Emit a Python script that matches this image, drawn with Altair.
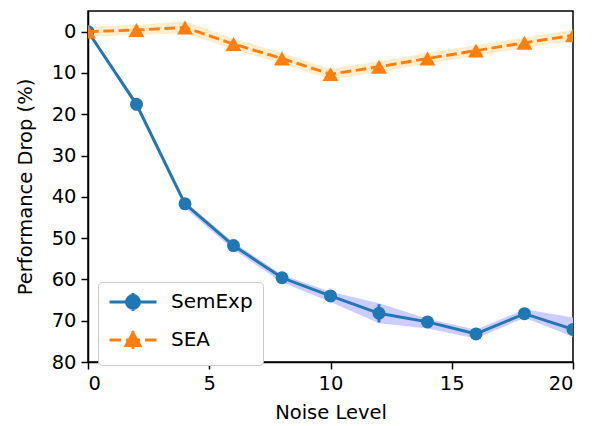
import altair as alt
import pandas as pd

# ---------------- data ----------------
noise = [0, 2, 4, 6, 8, 10, 12, 14, 16, 18, 20]

semexp = [0.0, 17.6, 41.7, 51.8, 59.6, 64.0, 68.2, 70.3, 73.2, 68.3, 72.1]
semexp_err = [0.3, 0.5, 0.6, 0.7, 0.8, 0.9, 2.2, 0.8, 0.8, 0.9, 1.0]
semexp_band_lo = [-0.3, 16.9, 41.1, 51.0, 58.9, 63.0, 65.8, 69.5, 72.2, 67.2, 69.2]
semexp_band_hi = [0.3, 18.5, 42.7, 52.8, 60.7, 65.5, 70.6, 71.9, 74.3, 69.3, 73.9]

sea = [0.0, -0.4, -1.0, 3.0, 6.5, 10.3, 8.5, 6.5, 4.6, 2.7, 0.9]
sea_err = [0.3, 0.4, 0.5, 0.5, 0.5, 0.6, 0.5, 0.5, 0.5, 0.5, 0.5]
sea_band_lo = [-1.2, -1.6, -2.5, 1.7, 5.2, 9.0, 7.2, 5.2, 3.3, 1.4, -0.4]
sea_band_hi = [1.2, 0.8, 0.3, 4.3, 7.8, 11.6, 9.8, 7.8, 5.9, 4.0, 2.2]

names = ["SemExp", "SEA"]
BLUE, ORANGE = "#1f77b4", "#ff7f0e"
BLUE_BAND, ORANGE_BAND = "#ccccff", "#ffedcc"

rows = []
for name, vals, errs, lo, hi in [
    ("SemExp", semexp, semexp_err, semexp_band_lo, semexp_band_hi),
    ("SEA", sea, sea_err, sea_band_lo, sea_band_hi),
]:
    for i, x in enumerate(noise):
        rows.append(dict(series=name, noise=x, value=vals[i],
                         err_lo=vals[i] - errs[i], err_hi=vals[i] + errs[i],
                         band_lo=lo[i], band_hi=hi[i]))
df = pd.DataFrame(rows)

# rows only used to generate the legend (placed outside the x domain, clipped)
legend_df = pd.DataFrame({"series": names, "noise": [-10, -10], "value": [40, 40]})

# ---------------- scales / axes ----------------
FONT = "DejaVu Sans"
FS = 19.5
LW = 2.9

xs = alt.Scale(domain=[0, 20], nice=False, zero=False)
ys = alt.Scale(domain=[-5, 80], reverse=True, nice=False, zero=False)

x_axis = alt.Axis(values=[0, 5, 10, 15, 20], title="Noise Level",
                  titleX=242.5, titleY=56, titleBaseline="alphabetic",
                  titleAlign="center")
y_axis = alt.Axis(values=[0, 10, 20, 30, 40, 50, 60, 70, 80],
                  title="Performance Drop (%)", titleAngle=270,
                  titleX=-63, titleY=175.5, titleBaseline="middle",
                  titleAlign="center")

X = alt.X("noise:Q", scale=xs, axis=x_axis)


def series_layers(name, color, band_color, dash, shape, size):
    base = alt.Chart(df).transform_filter(alt.datum.series == name)
    band = base.mark_area(clip=True, color=band_color, opacity=1).encode(
        x=X,
        y=alt.Y("band_lo:Q", scale=ys, axis=y_axis),
        y2="band_hi:Q",
    )
    line_kwargs = dict(clip=True, color=color, strokeWidth=LW)
    if dash:
        line_kwargs["strokeDash"] = dash
    line = base.mark_line(**line_kwargs).encode(
        x=X, y=alt.Y("value:Q", scale=ys, axis=y_axis))
    err = base.mark_rule(clip=True, color=color, strokeWidth=LW).encode(
        x=X, y=alt.Y("err_lo:Q", scale=ys, axis=y_axis), y2="err_hi:Q")
    pts = base.mark_point(clip=True, filled=True, opacity=1, color=color,
                          shape=shape, size=size).encode(
        x=X, y=alt.Y("value:Q", scale=ys, axis=y_axis))
    return band, line, err, pts


sb, sl, se, sp = series_layers("SemExp", BLUE, BLUE_BAND, None, "circle", 169)
ab, al, ae, ap = series_layers("SEA", ORANGE, ORANGE_BAND, [10.7, 4.6], "triangle-up", 256)

# ---------------- legend symbols (line + marker + errorbar) ----------------
U = 8.5  # half of sqrt(symbolSize)


def f(v):
    return f"{v / U:.4f}"


def circle(cx, r):
    return (f"M{f(cx + r)},0A{f(r)},{f(r)} 0 1,1 {f(cx - r)},0"
            f"A{f(r)},{f(r)} 0 1,1 {f(cx + r)},0Z")


semexp_sym = (f"M{f(-8.5)},0H{f(38.5)}"
              f"M{f(15)},{f(-9)}V{f(9)}" + circle(15, 6.5))
sea_sym = (f"M{f(-8.5)},0H{f(3)}M{f(8)},0H{f(22)}M{f(27)},0H{f(38.5)}"
           f"M{f(15)},{f(-9)}V{f(9)}"
           f"M{f(15)},{f(-7)}L{f(22)},{f(5.5)}L{f(8)},{f(5.5)}Z")

leg = alt.Legend(title=None, orient="none", legendX=10, legendY=271,
                 padding=10, strokeColor="#cccccc", fillColor="white",
                 cornerRadius=4, labelFont=FONT, labelFontSize=20,
                 labelColor="black", symbolSize=289, symbolStrokeWidth=LW,
                 labelOffset=43, rowPadding=8, labelLimit=300,
                 symbolOpacity=1)

legend_layer = alt.Chart(legend_df).mark_point(
    clip=True, opacity=1, strokeWidth=LW, size=289).encode(
    x=X,
    y=alt.Y("value:Q", scale=ys, axis=y_axis),
    fill=alt.Fill("series:N", scale=alt.Scale(domain=names, range=[BLUE, ORANGE]), legend=leg),
    stroke=alt.Stroke("series:N", scale=alt.Scale(domain=names, range=[BLUE, ORANGE]), legend=leg),
    shape=alt.Shape("series:N", scale=alt.Scale(domain=names, range=[semexp_sym, sea_sym]), legend=leg),
)

chart = alt.layer(sb, ab, sl, se, sp, al, ae, ap, legend_layer).properties(
    width=485, height=351,
    autosize=alt.AutoSizeParams(type="none"),
    padding={"left": 80, "top": 3, "right": 15, "bottom": 62},
).configure_view(
    stroke="black", strokeWidth=1.5
).configure_axis(
    grid=False, domainColor="black", domainWidth=1.5,
    tickColor="black", tickWidth=1.5, tickSize=7,
    labelFont=FONT, labelFontSize=FS, labelColor="black", labelPadding=5,
    titleFont=FONT, titleFontSize=FS, titleColor="black", titleFontWeight="normal",
)

chart.save("out.html", embed_options={"renderer": "svg", "actions": False})
